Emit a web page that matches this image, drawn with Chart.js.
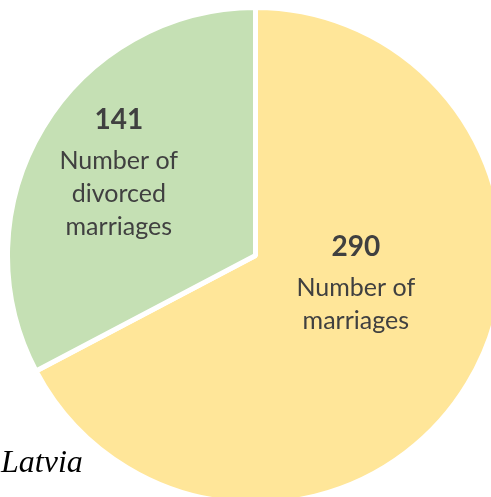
<!DOCTYPE html>
<html lang="en">
<head>
    <meta charset="UTF-8">
    <title>Latvia</title>
    <script src="https://cdn.jsdelivr.net/npm/chart.js"></script>
    <style>
        html, body { margin: 0; padding: 0; background: #fff; overflow: hidden; width: 491px; height: 497px; }
        #wrap { position: absolute; left: 5px; top: 5px; width: 501px; height: 501px; }
        #country { position: absolute; left: 1px; top: 445px; font: italic 32px/32px "Liberation Serif", serif; color: #000; }
    </style>
</head>
<body>
    <div id="wrap"><canvas id="chart"></canvas></div>
    <div id="country">Latvia</div>

    <script>
        // data
        const categories = ['Number of marriages', 'Number of divorced marriages'];
        const labelLines = [['Number of', 'marriages'], ['Number of', 'divorced', 'marriages']];
        const values = [290, 141];
        const colors = ['#FFE699', '#C5E0B4'];

        // where the label sits inside each slice (fraction of radius, angle shift in rad)
        const labelRadius = [0.42, 0.644];
        const labelShift = [-0.27, 0.0];

        const sliceLabels = {
            id: 'sliceLabels',
            afterDatasetsDraw(chart) {
                const ctx = chart.ctx;
                const meta = chart.getDatasetMeta(0);
                meta.data.forEach((arc, i) => {
                    const p = arc.getProps(['x', 'y', 'startAngle', 'endAngle', 'outerRadius']);
                    const mid = (p.startAngle + p.endAngle) / 2 + labelShift[i];
                    const r = p.outerRadius * labelRadius[i];
                    const cx = p.x + Math.cos(mid) * r;
                    const cy = p.y + Math.sin(mid) * r;
                    const lines = labelLines[i];
                    const lh = 33;
                    const total = lh * lines.length + 40;
                    let y = cy - total / 2;
                    ctx.save();
                    ctx.fillStyle = '#404040';
                    ctx.textAlign = 'center';
                    ctx.textBaseline = 'middle';
                    ctx.font = 'bold 28px Lato, sans-serif';
                    ctx.fillText(String(values[i]), cx, y + 16);
                    y += 41;
                    ctx.font = '25px Lato, sans-serif';
                    lines.forEach(line => {
                        ctx.fillText(line, cx, y + 16);
                        y += lh;
                    });
                    ctx.restore();
                });
            }
        };

        new Chart(document.getElementById('chart'), {
            type: 'pie',
            data: {
                labels: categories,
                datasets: [{
                    data: values,
                    backgroundColor: colors,
                    borderColor: '#ffffff',
                    borderWidth: 5
                }]
            },
            options: {
                responsive: true,
                maintainAspectRatio: false,
                animation: false,
                layout: { padding: 0 },
                plugins: {
                    legend: { display: false },
                    tooltip: { enabled: false }
                }
            },
            plugins: [sliceLabels]
        });
    </script>
</body>
</html>
